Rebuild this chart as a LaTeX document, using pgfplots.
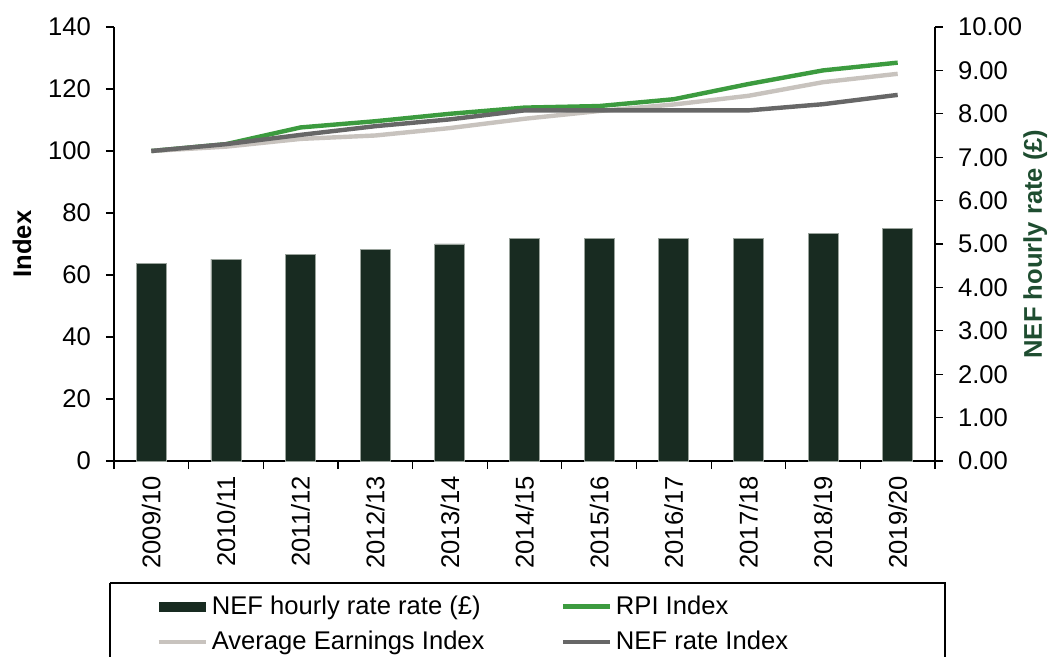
\documentclass[border=0pt]{standalone}
\usepackage{pgfplots}
\pgfplotsset{compat=1.18}
\usepackage{fontspec}
\setmainfont{Liberation Sans}

\definecolor{barfill}{HTML}{182B21}
\definecolor{barline}{HTML}{9AA39C}
\definecolor{rpigreen}{HTML}{3C9B3F}
\definecolor{earnings}{HTML}{C8C3BE}
\definecolor{nefgrey}{HTML}{676767}
\definecolor{labelgreen}{HTML}{1E4D30}

\pgfplotsset{
  base/.style={
    scale only axis,
    width=410.5pt, height=217pt,
    xmin=-0.5, xmax=10.5,
    tick align=outside,
    major tick length=4pt,
    tick style={black, line width=0.6pt},
    axis line style={black, line width=0.6pt},
    /pgf/number format/assume math mode=true,
    tick label style={font=\fontsize{12.8}{15}\selectfont},
    label style={font=\fontsize{12.8}{15}\selectfont\bfseries},
  },
}

\begin{document}
\begin{tikzpicture}
% bars on the right-hand (£) axis
\begin{axis}[base,
  axis x line*=bottom, axis y line*=right,
  ymin=0, ymax=10, ytick={0,1,...,10},
  yticklabel style={xshift=4pt, /pgf/number format/.cd, fixed, fixed zerofill, precision=2},
  xtick={-0.5,0.5,...,10.5},
  x tick label as interval,
  xticklabels={2009/10,2010/11,2011/12,2012/13,2013/14,2014/15,2015/16,2016/17,2017/18,2018/19,2019/20},
  xticklabel style={rotate=90, anchor=east},
  ylabel={NEF hourly rate (£)},
  ylabel style={at={(axis description cs:1.122,0.5)}, anchor=center, text=labelgreen},
]
\addplot[ybar, bar width=15pt, fill=barfill, draw=barline, line width=0.4pt] coordinates {
  (0,4.56) (1,4.65) (2,4.76) (3,4.88) (4,5.00) (5,5.13)
  (6,5.13) (7,5.13) (8,5.13) (9,5.25) (10,5.36)
};
\end{axis}
% index lines on the left-hand axis
\begin{axis}[base,
  clip=false,
  axis x line=none, axis y line*=left,
  ymin=0, ymax=140, ytick={0,20,...,140},
  yticklabel style={xshift=-4pt},
  ylabel={Index},
  ylabel style={at={(axis description cs:-0.112,0.5)}, anchor=center},
  legend columns=2,
  legend cell align=left,
  legend style={at={([xshift=18pt, yshift=-3.5pt]axis description cs:0.0,-0.275)}, anchor=north west,
    draw=none, fill=none, font=\fontsize{12.8}{15}\selectfont,
    row sep=3pt,
    /tikz/every even column/.append style={column sep=36pt}},
  legend image code/.code={\draw[#1, line width=2.2pt] (0pt,0pt) -- (23.5pt,0pt);},
]
\addlegendimage{legend image code/.code={\draw[fill=barfill, draw=none] (0pt,-2.5pt) rectangle (23.5pt,2.5pt);}}
\addlegendentry{NEF hourly rate rate (£)}
\addplot[rpigreen, line width=2.2pt] coordinates {
  (0,100) (1,102.2) (2,107.6) (3,109.6) (4,112) (5,114)
  (6,114.5) (7,116.7) (8,121.6) (9,126) (10,128.5)
};
\addlegendentry{RPI Index}
\addplot[earnings, line width=2.2pt] coordinates {
  (0,100) (1,101.4) (2,103.9) (3,105) (4,107.4) (5,110.4)
  (6,112.9) (7,115) (8,117.8) (9,122.2) (10,124.9)
};
\addlegendentry{Average Earnings Index}
\addplot[nefgrey, line width=2.2pt] coordinates {
  (0,100) (1,102.2) (2,105.2) (3,108) (4,110.2) (5,113.1)
  (6,113.1) (7,113.1) (8,113.1) (9,115.1) (10,118.1)
};
\addlegendentry{NEF rate Index}
\draw[black, line width=0.6pt] ([xshift=-2pt]axis description cs:0,-0.281) -- ([xshift=5pt]axis description cs:1,-0.281) -- ++(0pt,-60pt) ([xshift=-2pt]axis description cs:0,-0.281) -- ++(0pt,-60pt);
\end{axis}
\pgfresetboundingbox
\path (-57pt,-98pt) rectangle (474.5pt,230.5pt);
\end{tikzpicture}
\end{document}
